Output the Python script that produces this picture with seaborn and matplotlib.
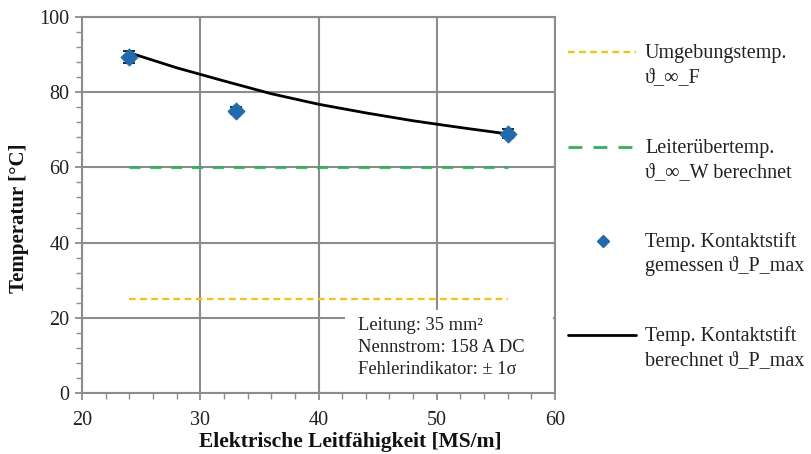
import matplotlib
matplotlib.use("Agg")
import matplotlib.pyplot as plt
import seaborn as sns
import pandas as pd
from matplotlib.lines import Line2D
from matplotlib.patches import Rectangle
from matplotlib.ticker import MultipleLocator

# Measured contact pin temperatures
sigma_meas = [24, 33, 56]
temp_meas = [89.3, 75.1, 68.9]
temp_err = [1.6, 1.0, 1.2]

# Calculated contact pin temperature
sigma_calc = [24, 28, 32, 36, 40, 44, 48, 52, 56]
temp_calc = [90.5, 86.5, 83.0, 79.6, 76.8, 74.5, 72.4, 70.6, 68.9]

# Reference levels
sigma_ref = [24, 56]
temp_ambient = [25, 25]
temp_conductor = [60, 60]

labels = [
    ("Umgebungstemp.", "ϑ_∞_F"),
    ("Leiterübertemp.", "ϑ_∞_W berechnet"),
    ("Temp. Kontaktstift", "gemessen ϑ_P_max"),
    ("Temp. Kontaktstift", "berechnet ϑ_P_max"),
]
info_text = "Leitung: 35 mm²\nNennstrom: 158 A DC\nFehlerindikator: ± 1σ"

sns.set_theme(style="white")
plt.rcParams["font.family"] = ["Liberation Serif", "DejaVu Serif"]

C_ORANGE = "#FFC000"
C_GREEN = "#2DB35B"
C_BLUE = "#1F6BB0"
C_GRID = "#8C8C8C"
C_TEXT = "#222222"

W, H = 812, 454
fig = plt.figure(figsize=(W / 100, H / 100), dpi=100)
ax = fig.add_axes([82 / W, 1 - 393 / H, (555 - 82) / W, (393 - 17) / H])

df_calc = pd.DataFrame({"x": sigma_calc, "y": temp_calc})
df_meas = pd.DataFrame({"x": sigma_meas, "y": temp_meas})
df_amb = pd.DataFrame({"x": sigma_ref, "y": temp_ambient})
df_cond = pd.DataFrame({"x": sigma_ref, "y": temp_conductor})

sns.lineplot(data=df_amb, x="x", y="y", ax=ax, color=C_ORANGE, lw=1.6, zorder=3)
ax.lines[-1].set_dashes([3, 2])
sns.lineplot(data=df_cond, x="x", y="y", ax=ax, color=C_GREEN, lw=2.0, zorder=3)
ax.lines[-1].set_dashes([4, 3.5])
sns.lineplot(data=df_calc, x="x", y="y", ax=ax, color="black", lw=2.0, zorder=4)
ax.errorbar(sigma_meas, temp_meas, yerr=temp_err, fmt="none", ecolor="black",
            elinewidth=1.2, capsize=4, capthick=1.2, zorder=5)
sns.scatterplot(data=df_meas, x="x", y="y", ax=ax, marker="D", s=75,
                color=C_BLUE, edgecolor=C_BLUE, zorder=6)

ax.set_xlim(20, 60)
ax.set_ylim(0, 100)
ax.xaxis.set_major_locator(MultipleLocator(10))
ax.xaxis.set_minor_locator(MultipleLocator(2))
ax.yaxis.set_major_locator(MultipleLocator(20))
ax.yaxis.set_minor_locator(MultipleLocator(4))
ax.grid(True, which="major", color=C_GRID, lw=1.5, zorder=0)
ax.set_axisbelow(True)
for s in ax.spines.values():
    s.set_color(C_GRID)
    s.set_linewidth(1.5)
ax.tick_params(which="both", direction="out", colors=C_GRID, labelcolor=C_TEXT,
               labelsize=14.5, bottom=True, left=True)
ax.tick_params(which="major", length=5, width=1.3)
ax.tick_params(which="minor", length=4, width=1.0)
ax.tick_params(axis="x", which="major", pad=8)
ax.tick_params(axis="y", which="major", pad=4)

ax.set_xlabel("Elektrische Leitfähigkeit [MS/m]", fontsize=15.5, fontweight="bold",
              color="#111111")
ax.xaxis.set_label_coords((350 - 82) / 473, (393 - 432) / 376)
ax.set_ylabel("Temperatur [°C]", fontsize=15, fontweight="bold", color="#111111")
ax.yaxis.set_label_coords((29 - 82) / 473, (393 - 218) / 376)

# White note box in the lower right of the plot area, covering the grid
ax.add_patch(Rectangle((345 / W, 1 - 392 / H), (553 - 345) / W, (392 - 310) / H,
                       transform=fig.transFigure, fc="white", ec="none", zorder=2))
ax.text(358 / W, 1 - 317 / H, info_text, transform=fig.transFigure, fontsize=13.3,
        color=C_TEXT, va="top", ha="left", linespacing=1.38, zorder=7)

# Side legend: handle next to the first line of each two-line label
handles = [
    Line2D([568 / W, 636 / W], [0, 0], color=C_ORANGE, lw=1.6, dashes=[3, 2]),
    Line2D([568 / W, 634 / W], [0, 0], color=C_GREEN, lw=2.0, dashes=[5, 4]),
    Line2D([603 / W], [0], color=C_BLUE, marker="D", ls="none", markersize=6.5),
    Line2D([568 / W, 636 / W], [0, 0], color="black", lw=2.0),
]
rows_y = [52, 147, 241, 335]
for h, (l1, l2), py in zip(handles, labels, rows_y):
    h.set_ydata([1 - py / H] * len(h.get_xdata()))
    h.set_transform(fig.transFigure)
    fig.add_artist(h)
    for k, line in enumerate((l1, l2)):
        fig.text(645 / W, 1 - (py + 6 + 24 * k) / H, line, fontsize=14.5,
                 color=C_TEXT, ha="left", va="baseline")

fig.savefig("out.png", dpi=100, facecolor="white")
